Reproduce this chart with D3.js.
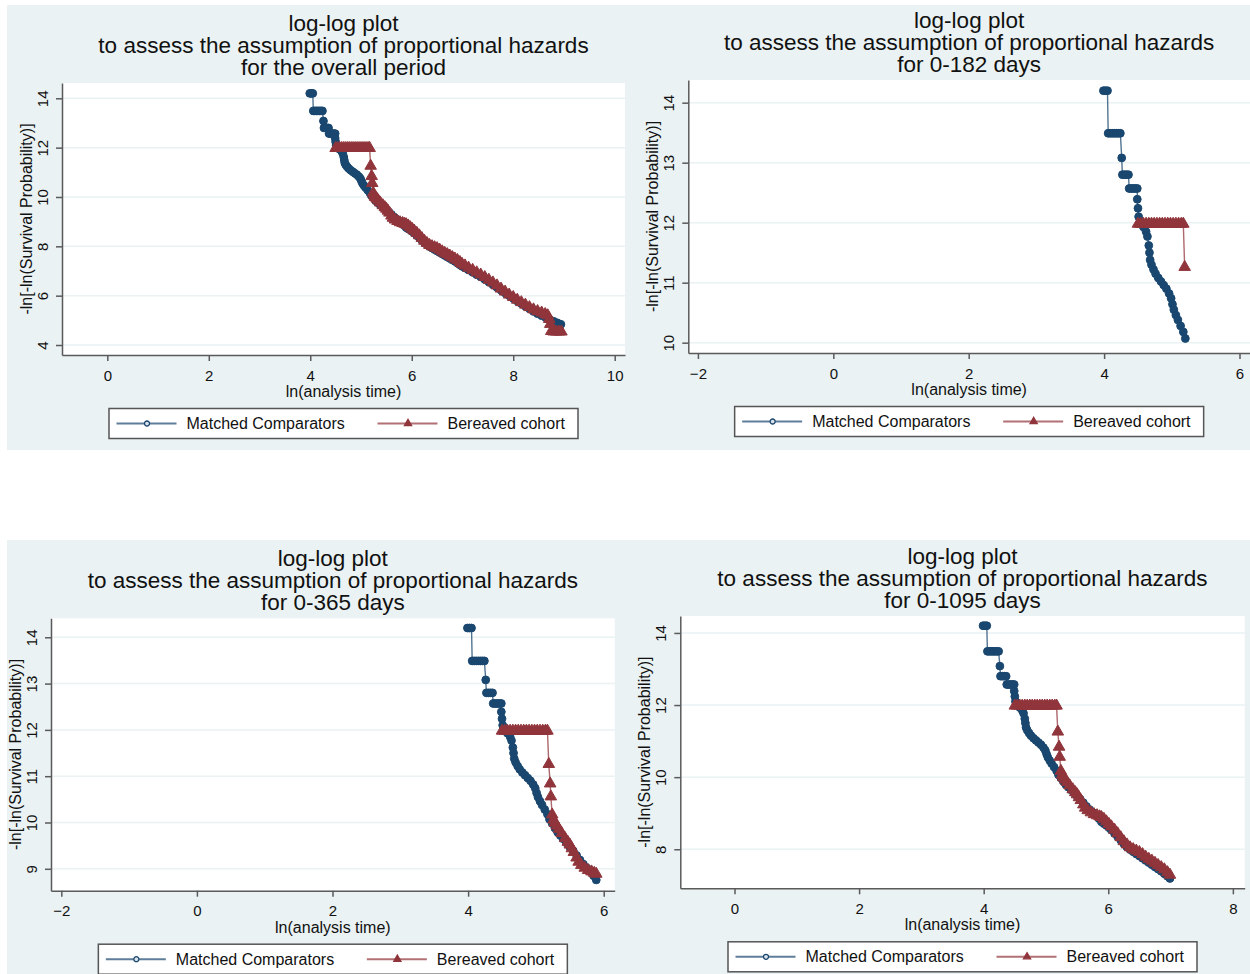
<!DOCTYPE html>
<html>
<head>
<meta charset="utf-8">
<script src="https://d3js.org/d3.v7.min.js"></script>
<style>
body { margin: 0; background: #fff; }
svg text { font-family: "Liberation Sans", Arial, sans-serif; fill: #111; }
</style>
</head>
<body>
<div id="chart"></div>
<script>

// ln(analysis time) and -ln[-ln(S)].
// The shorter follow-up periods are just the first part of the same curves.
var comparatorLnT = [3.99, 4.02, 4.05, 4.06, 4.09, 4.12, 4.15, 4.18, 4.21, 4.24,
    4.26, 4.27, 4.30, 4.33, 4.36, 4.37, 4.40, 4.43, 4.46, 4.49,
    4.49, 4.50, 4.51, 4.54, 4.58, 4.62, 4.64, 4.66, 4.67, 4.68,
    4.70, 4.73, 4.76, 4.80, 4.84, 4.88, 4.92, 4.96, 4.99, 5.01,
    5.03, 5.06, 5.09, 5.13, 5.17, 5.20, 5.24, 5.28, 5.32, 5.36,
    5.40, 5.45, 5.50, 5.55, 5.60, 5.65, 5.70, 5.75, 5.80, 5.85,
    5.89, 5.93, 5.97, 6.01, 6.05, 6.10, 6.15, 6.20, 6.25, 6.30,
    6.35, 6.40, 6.45, 6.50, 6.55, 6.60, 6.65, 6.70, 6.75, 6.80,
    6.85, 6.90, 6.95, 6.99, 7.05, 7.12, 7.20, 7.28, 7.36, 7.44,
    7.52, 7.60, 7.68, 7.76, 7.84, 7.92, 8.00, 8.08, 8.16, 8.24,
    8.32, 8.40, 8.48, 8.56, 8.64, 8.72, 8.80, 8.87, 8.94];
var comparatorY = [14.20, 14.20, 14.20, 13.49, 13.49, 13.49, 13.49, 13.49, 13.49, 13.49,
    13.08, 12.80, 12.80, 12.80, 12.80, 12.57, 12.57, 12.57, 12.57, 12.57,
    12.39, 12.24, 12.10, 12.00, 11.93, 11.85, 11.77, 11.62, 11.50, 11.38,
    11.30, 11.22, 11.15, 11.08, 11.02, 10.96, 10.90, 10.82, 10.74, 10.64,
    10.55, 10.46, 10.38, 10.28, 10.18, 10.07, 9.98, 9.88, 9.79, 9.72,
    9.65, 9.56, 9.47, 9.39, 9.29, 9.19, 9.10, 9.02, 8.94, 8.85,
    8.76, 8.71, 8.66, 8.60, 8.53, 8.44, 8.35, 8.25, 8.15, 8.06,
    7.99, 7.93, 7.87, 7.81, 7.75, 7.69, 7.63, 7.57, 7.51, 7.45,
    7.39, 7.32, 7.25, 7.19, 7.12, 7.04, 6.95, 6.85, 6.76, 6.66,
    6.55, 6.44, 6.33, 6.22, 6.11, 6.00, 5.89, 5.78, 5.68, 5.57,
    5.47, 5.36, 5.27, 5.19, 5.11, 5.03, 4.96, 4.90, 4.84];

var bereavedLnT = [4.50, 4.54, 4.58, 4.62, 4.66, 4.70, 4.74, 4.78, 4.82, 4.86,
    4.90, 4.94, 4.98, 5.02, 5.06, 5.10, 5.14, 5.17, 5.19, 5.21,
    5.22, 5.24, 5.26, 5.28, 5.31, 5.34, 5.38, 5.43, 5.47, 5.50,
    5.53, 5.56, 5.60, 5.63, 5.67, 5.72, 5.77, 5.82, 5.86, 5.89,
    5.93, 5.97, 6.01, 6.05, 6.10, 6.15, 6.20, 6.25, 6.30, 6.35,
    6.40, 6.45, 6.50, 6.55, 6.60, 6.65, 6.70, 6.75, 6.80, 6.85,
    6.90, 6.95, 6.99, 7.05, 7.12, 7.20, 7.28, 7.36, 7.44, 7.52,
    7.60, 7.68, 7.76, 7.84, 7.92, 8.00, 8.08, 8.16, 8.24, 8.32,
    8.40, 8.48, 8.56, 8.63, 8.68, 8.71, 8.73, 8.75, 8.80, 8.85,
    8.90, 8.95];
var bereavedY = [11.98, 11.98, 11.98, 11.98, 11.98, 11.98, 11.98, 11.98, 11.98, 11.98,
    11.98, 11.98, 11.98, 11.98, 11.98, 11.98, 11.98, 11.98, 11.26, 10.84,
    10.56, 10.17, 10.06, 9.99, 9.93, 9.86, 9.77, 9.66, 9.58, 9.52,
    9.44, 9.36, 9.24, 9.15, 9.08, 9.02, 8.97, 8.94, 8.91, 8.89,
    8.84, 8.77, 8.70, 8.63, 8.54, 8.44, 8.33, 8.22, 8.13, 8.05,
    8.00, 7.96, 7.92, 7.86, 7.79, 7.73, 7.68, 7.62, 7.56, 7.50,
    7.44, 7.36, 7.29, 7.22, 7.13, 7.04, 6.94, 6.85, 6.75, 6.64,
    6.53, 6.41, 6.28, 6.16, 6.04, 5.94, 5.83, 5.73, 5.63, 5.53,
    5.44, 5.37, 5.31, 5.25, 5.20, 5.05, 4.85, 4.56, 4.54, 4.54,
    4.54, 4.54];

var seriesNames = ["Matched Comparators", "Bereaved cohort"];
var titleLines = ["log-log plot", "to assess the assumption of proportional hazards"];
var periodLabels = ["for the overall period", "for 0-182 days", "for 0-365 days", "for 0-1095 days"];
var periodDays = [Infinity, 182, 365, 1095];
var xTickValues = [[0, 2, 4, 6, 8, 10], [-2, 0, 2, 4, 6], [-2, 0, 2, 4, 6], [0, 2, 4, 6, 8]];
var yTickValues = [[4, 6, 8, 10, 12, 14], [10, 11, 12, 13, 14], [9, 10, 11, 12, 13, 14], [8, 10, 12, 14]];
var xAxisTitle = "ln(analysis time)";
var yAxisTitle = "-ln[-ln(Survival Probability)]";

// where each graph sits on the page (bg: x, y, w, h / plot: x0, y0, x1, y1)
var panelLayout = [
    { bg: [7, 5, 625, 445],   plot: [62, 83, 625, 355],        xDomain: [-0.893, 10.203], yDomain: [3.595, 14.62] },
    { bg: [632, 5, 618, 445], plot: [688.3, 80, 1250, 353],    xDomain: [-2.142, 6.155],  yDomain: [9.828, 14.378] },
    { bg: [7, 540, 618, 434], plot: [51, 618.3, 614.7, 890.7], xDomain: [-2.152, 6.162],  yDomain: [8.527, 14.41] },
    { bg: [625, 540, 625, 434], plot: [680.3, 616, 1244.7, 888.3], xDomain: [-0.870, 8.19], yDomain: [6.917, 14.47] }
];

var navy = "#1a476f",
    maroon = "#90353b";


/*
 * LogLogPlot - one stphplot-style panel
 */

LogLogPlot = function(_svg, _index, _data) {
    this.svg = _svg;
    this.index = _index;
    this.data = _data;
    this.layout = panelLayout[_index];

    this.initVis();
};

LogLogPlot.prototype.initVis = function() {
    var vis = this;
    var L = vis.layout;

    vis.left = L.plot[0];
    vis.top = L.plot[1];
    vis.width = L.plot[2] - L.plot[0];
    vis.height = L.plot[3] - L.plot[1];

    // graph region
    vis.svg.append("rect")
        .attr("x", L.bg[0]).attr("y", L.bg[1])
        .attr("width", L.bg[2]).attr("height", L.bg[3])
        .attr("fill", "#eaf2f3");

    vis.g = vis.svg.append("g")
        .attr("transform", "translate(" + vis.left + "," + vis.top + ")");

    // plot region
    vis.g.append("rect")
        .attr("width", vis.width)
        .attr("height", vis.height)
        .attr("fill", "#fff");

    vis.x = d3.scaleLinear().domain(L.xDomain).range([0, vis.width]);
    vis.y = d3.scaleLinear().domain(L.yDomain).range([vis.height, 0]);

    vis.g.selectAll(".grid")
        .data(yTickValues[vis.index])
        .enter().append("line")
        .attr("class", "grid")
        .attr("x1", 0).attr("x2", vis.width)
        .attr("y1", function(d) { return vis.y(d); })
        .attr("y2", function(d) { return vis.y(d); })
        .attr("stroke", "#eaf2f3")
        .attr("stroke-width", 1.5);

    vis.xAxis = d3.axisBottom(vis.x)
        .tickValues(xTickValues[vis.index])
        .tickFormat(d3.format("d"))
        .tickSize(6).tickSizeOuter(0).tickPadding(9);

    vis.yAxis = d3.axisLeft(vis.y)
        .tickValues(yTickValues[vis.index])
        .tickFormat(d3.format("d"))
        .tickSize(6).tickSizeOuter(0);

    vis.g.append("g")
        .attr("class", "x-axis axis")
        .attr("transform", "translate(0," + vis.height + ")");

    vis.g.append("g")
        .attr("class", "y-axis axis");

    // titles
    var cx = vis.width / 2;
    var lines = titleLines.concat([periodLabels[vis.index]]);
    vis.g.selectAll(".title")
        .data(lines)
        .enter().append("text")
        .attr("class", "title")
        .attr("x", cx)
        .attr("y", function(d, i) { return -52.5 + i * 22; })
        .attr("text-anchor", "middle")
        .style("font-size", "22.5px")
        .text(function(d) { return d; });

    vis.g.append("text")
        .attr("x", cx)
        .attr("y", vis.height + 42)
        .attr("text-anchor", "middle")
        .style("font-size", "16px")
        .text(xAxisTitle);

    vis.g.append("text")
        .attr("transform", "translate(-30," + (vis.height / 2) + ") rotate(-90)")
        .attr("text-anchor", "middle")
        .style("font-size", "16px")
        .text(yAxisTitle);

    vis.drawLegend();
    vis.wrangleData();
};

LogLogPlot.prototype.drawLegend = function() {
    var vis = this;
    var lg = vis.g.append("g")
        .attr("transform", "translate(" + (vis.width / 2 - 234.5) + "," + (vis.height + 53.5) + ")");

    lg.append("rect")
        .attr("width", 469).attr("height", 30)
        .attr("fill", "#fff")
        .attr("stroke", "#555").attr("stroke-width", 1.5);

    var items = lg.selectAll(".legend-item")
        .data(seriesNames)
        .enter().append("g")
        .attr("class", "legend-item")
        .attr("transform", function(d, i) { return "translate(" + (i * 261) + ",15)"; });

    items.append("line")
        .attr("x1", 7.5).attr("x2", 67.5)
        .attr("stroke", function(d, i) { return i ? maroon : navy; })
        .attr("stroke-opacity", 0.7)
        .attr("stroke-width", 2);

    items.append("path")
        .attr("transform", "translate(38,0)")
        .attr("d", function(d, i) {
            return d3.symbol().type(i ? d3.symbolTriangle : d3.symbolCircle).size(i ? 22 : 20)();
        })
        .attr("fill", function(d, i) { return i ? maroon : "#dbe3ea"; })
        .attr("stroke", function(d, i) { return i ? maroon : navy; })
        .attr("stroke-width", 1.3);

    items.append("text")
        .attr("x", 77.5)
        .attr("y", 5.5)
        .style("font-size", "16px")
        .text(function(d) { return d; });
};

LogLogPlot.prototype.wrangleData = function() {
    var vis = this;
    var maxLnT = Math.log(periodDays[vis.index]);

    vis.displayData = vis.data.map(function(s) {
        return {
            key: s.key,
            values: s.values.filter(function(p) { return p.t <= maxLnT; })
        };
    });

    vis.updateVis();
};

LogLogPlot.prototype.updateVis = function() {
    var vis = this;

    var line = d3.line()
        .x(function(d) { return vis.x(d.t); })
        .y(function(d) { return vis.y(d.y); });

    var groups = vis.g.selectAll(".series")
        .data(vis.displayData)
        .enter().append("g")
        .attr("class", "series");

    groups.append("path")
        .attr("d", function(d) { return line(d.values); })
        .attr("fill", "none")
        .attr("stroke", function(d, i) { return i ? maroon : navy; })
        .attr("stroke-opacity", 0.75)
        .attr("stroke-width", 1.4);

    groups.each(function(s, i) {
        var sym = d3.symbol().type(i ? d3.symbolTriangle : d3.symbolCircle).size(i ? 58 : 48);
        d3.select(this).selectAll(".marker")
            .data(s.values)
            .enter().append("path")
            .attr("class", "marker")
            .attr("transform", function(d) { return "translate(" + vis.x(d.t) + "," + vis.y(d.y) + ")"; })
            .attr("d", sym)
            .attr("fill", i ? maroon : navy)
            .attr("stroke", i ? maroon : navy)
            .attr("stroke-width", 1);
    });

    // axes
    vis.g.select(".x-axis").call(vis.xAxis);
    vis.g.select(".y-axis").call(vis.yAxis);

    vis.g.selectAll(".axis path, .axis line")
        .attr("stroke", "#5a5a5a")
        .attr("stroke-width", 1.5);
    vis.g.selectAll(".axis text")
        .attr("fill", "#111")
        .style("font-size", "15px")
        .style("font-family", "'Liberation Sans', Arial, sans-serif");

    vis.g.select(".y-axis").selectAll("text")
        .attr("x", null).attr("dy", null)
        .attr("transform", "translate(-14,0) rotate(-90)")
        .style("text-anchor", "middle");

    // axes on top of the markers, as in the original
    vis.g.select(".x-axis").raise();
    vis.g.select(".y-axis").raise();
};


var svg = d3.select("#chart").append("svg")
    .attr("width", 1250)
    .attr("height", 974);

function makeSeries(ts, ys) {
    return ts.map(function(t, i) { return { t: t, y: ys[i] }; });
}

var allData = [
    { key: seriesNames[0], values: makeSeries(comparatorLnT, comparatorY) },
    { key: seriesNames[1], values: makeSeries(bereavedLnT, bereavedY) }
];

var plots = periodDays.map(function(d, i) {
    return new LogLogPlot(svg, i, allData);
});

</script>
</body>
</html>
